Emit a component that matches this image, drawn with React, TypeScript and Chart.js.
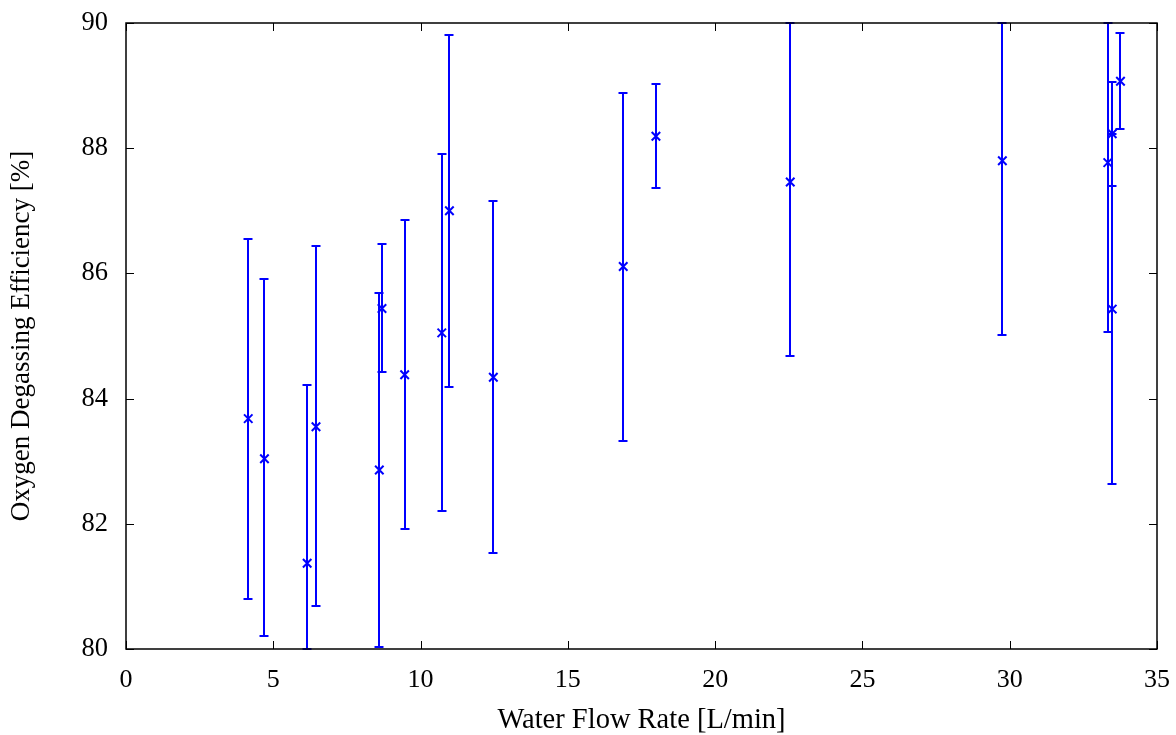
import React, { useEffect, useRef } from "react";
import { Chart, registerables } from "chart.js";

Chart.register(...registerables);

const flowRate = [4.15, 4.70, 6.15, 6.45, 8.60, 8.69, 9.46, 10.72, 10.98, 12.47, 16.88, 17.99, 22.55, 29.75, 33.33, 33.48, 33.48, 33.76];
const efficiency = [83.68, 83.04, 81.37, 83.55, 82.86, 85.44, 84.38, 85.05, 87.00, 84.34, 86.11, 88.19, 87.46, 87.80, 87.77, 85.43, 88.23, 89.07];
const errLow = [80.80, 80.21, 78.53, 80.69, 80.03, 84.42, 81.91, 82.21, 84.18, 81.54, 83.32, 87.36, 84.68, 85.02, 85.07, 82.64, 87.40, 88.30];
const errHigh = [86.55, 85.91, 84.21, 86.44, 85.68, 86.47, 86.85, 87.91, 89.81, 87.15, 88.88, 89.03, 90.24, 90.58, 90.47, 88.23, 89.06, 89.84];

const xTicks = [0, 5, 10, 15, 20, 25, 30, 35];
const yTicks = [80, 82, 84, 86, 88, 90];

const BLUE = "#0000ff";
const FONT = "'Liberation Serif', 'Times New Roman', serif";

const errorBarPlugin = {
  id: "errorBars",
  beforeDatasetsDraw(chart: any) {
    const { ctx, scales } = chart;
    const xs = scales.x;
    const ys = scales.y;
    ctx.save();
    ctx.strokeStyle = BLUE;
    ctx.lineWidth = 2;
    const cap = 4.5;
    for (let i = 0; i < flowRate.length; i++) {
      const px = Math.round(xs.getPixelForValue(flowRate[i]));
      const lo = Math.max(errLow[i], ys.min);
      const hi = Math.min(errHigh[i], ys.max);
      const pLo = Math.round(ys.getPixelForValue(lo));
      const pHi = Math.round(ys.getPixelForValue(hi));
      ctx.beginPath();
      ctx.moveTo(px, pLo);
      ctx.lineTo(px, pHi);
      ctx.moveTo(px - cap, pLo);
      ctx.lineTo(px + cap, pLo);
      ctx.moveTo(px - cap, pHi);
      ctx.lineTo(px + cap, pHi);
      ctx.stroke();
    }
    ctx.restore();
  },
  afterDatasetsDraw(chart: any) {
    const { ctx, chartArea, scales } = chart;
    const { left, right, top, bottom } = chartArea;
    const xs = scales.x;
    const ys = scales.y;
    const tl = 8;
    ctx.save();
    ctx.strokeStyle = "#000";
    ctx.lineWidth = 1;
    ctx.beginPath();
    for (const v of xTicks) {
      const px = Math.round(xs.getPixelForValue(v)) + 0.5;
      ctx.moveTo(px, bottom);
      ctx.lineTo(px, bottom - tl);
      ctx.moveTo(px, top);
      ctx.lineTo(px, top + tl);
    }
    for (const v of yTicks) {
      const py = Math.round(ys.getPixelForValue(v)) + 0.5;
      ctx.moveTo(left, py);
      ctx.lineTo(left + tl, py);
      ctx.moveTo(right, py);
      ctx.lineTo(right - tl, py);
    }
    ctx.stroke();
    ctx.lineWidth = 1.5;
    ctx.strokeRect(left, top, right - left, bottom - top);
    ctx.restore();
  },
};

export default function App() {
  const ref = useRef<HTMLCanvasElement | null>(null);
  useEffect(() => {
    if (!ref.current) return;
    const chart = new Chart(ref.current, {
      type: "scatter",
      data: {
        datasets: [
          {
            label: "Efficiency",
            data: flowRate.map((x, i) => ({ x, y: efficiency[i] })),
            pointStyle: "crossRot",
            pointRadius: 6,
            pointBorderWidth: 2,
            borderColor: BLUE,
            backgroundColor: BLUE,
            pointHoverRadius: 6,
          },
        ],
      },
      options: {
        animation: false,
        responsive: true,
        maintainAspectRatio: false,
        layout: { padding: { top: 23, right: 19, left: 0, bottom: 0 } },
        plugins: { legend: { display: false }, tooltip: { enabled: false } },
        scales: {
          x: {
            type: "linear",
            min: 0,
            max: 35,
            afterFit: (s: any) => { s.height = 86; s.paddingLeft = 0; s.paddingRight = 0; },
            afterBuildTicks: (s: any) => { s.ticks = xTicks.map((v) => ({ value: v })); },
            grid: { display: false, drawTicks: false },
            border: { display: false },
            ticks: { color: "#000", padding: 16, font: { family: FONT, size: 26 }, maxRotation: 0 },
            title: { display: true, text: "Water Flow Rate [L/min]", color: "#000", font: { family: FONT, size: 28.5 }, padding: { top: 0, bottom: -3 } },
          },
          y: {
            type: "linear",
            min: 80,
            max: 90,
            afterFit: (s: any) => { s.width = 126; s.paddingTop = 0; s.paddingBottom = 0; },
            afterBuildTicks: (s: any) => { s.ticks = yTicks.map((v) => ({ value: v })); },
            grid: { display: false, drawTicks: false },
            border: { display: false },
            ticks: { color: "#000", padding: 18, font: { family: FONT, size: 26.5 } },
            title: { display: true, text: "Oxygen Degassing Efficiency [%]", color: "#000", font: { family: FONT, size: 27 }, padding: { top: 6, bottom: 0 } },
          },
        },
      },
      plugins: [errorBarPlugin],
    });
    return () => chart.destroy();
  }, []);
  return (
    <div style={{ position: "fixed", left: 0, top: 0, width: 1176, height: 735, background: "#fff" }}>
      <canvas ref={ref} />
    </div>
  );
}
